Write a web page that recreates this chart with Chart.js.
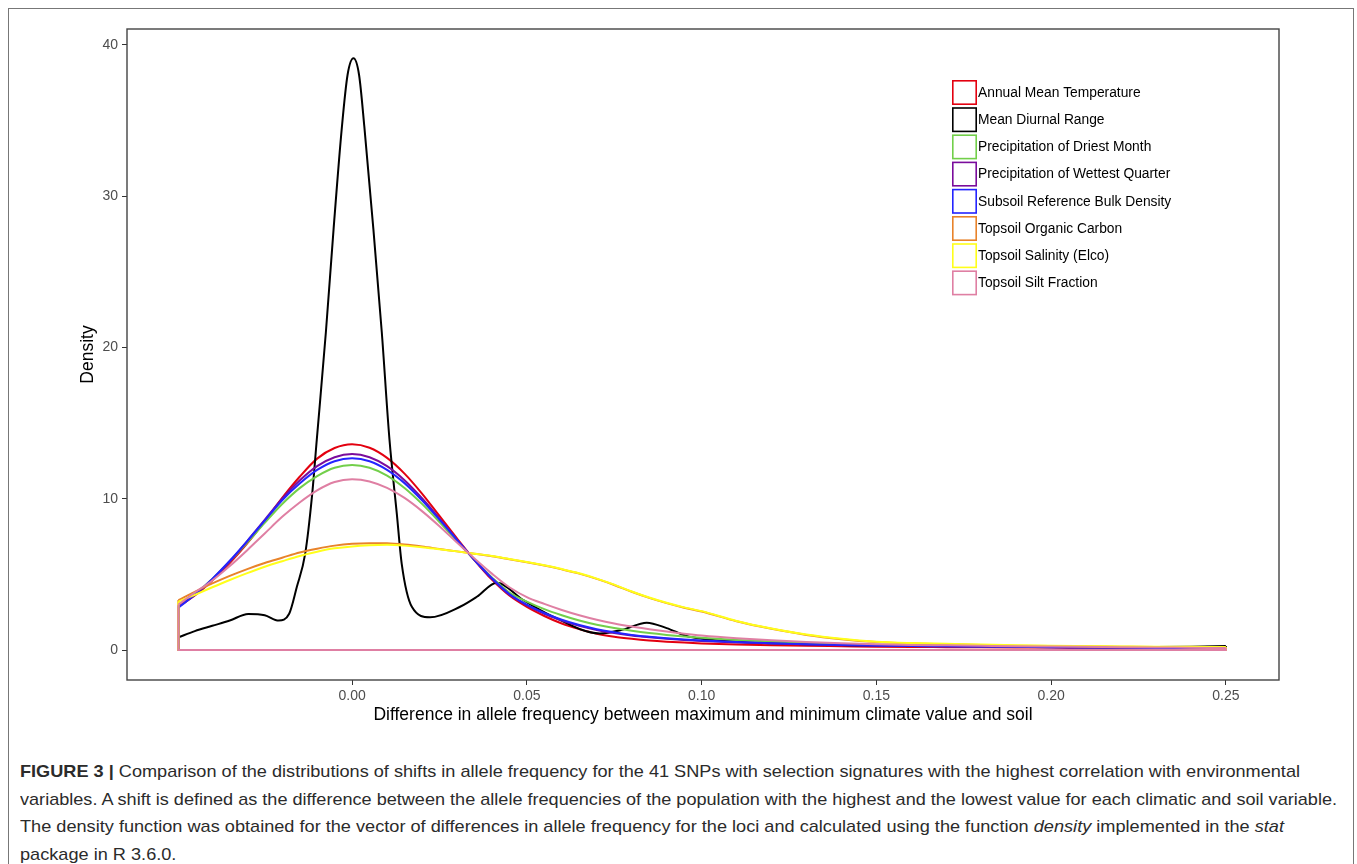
<!DOCTYPE html>
<html>
<head>
<meta charset="utf-8">
<script src="https://cdn.jsdelivr.net/npm/chart.js@4.4.1/dist/chart.umd.min.js"></script>
<style>
  body { margin: 0; background: #fff; width: 1357px; height: 864px; overflow: hidden; position: relative;
         font-family: "Liberation Sans", Arial, sans-serif; }
  #frame { position: absolute; left: 8px; top: 8px; width: 1344px; height: 900px; border: 1px solid #777; }
  #wrap { position: absolute; left: 0; top: 0; width: 1357px; height: 740px; }
  #caption { position: absolute; left: 20px; top: 758px; color: #2b2b2b; font-size: 17px; line-height: 27.7px; }
  #caption div { white-space: nowrap; transform-origin: 0 50%; width: max-content; }
</style>
</head>
<body>
<div id="frame"></div>
<div id="wrap"><canvas id="densityChart" width="1357" height="740"></canvas></div>
<div id="caption">
  <div><b>FIGURE 3 |</b> Comparison of the distributions of shifts in allele frequency for the 41 SNPs with selection signatures with the highest correlation with environmental</div>
  <div>variables. A shift is defined as the difference between the allele frequencies of the population with the highest and the lowest value for each climatic and soil variable.</div>
  <div>The density function was obtained for the vector of differences in allele frequency for the loci and calculated using the function <i>density</i> implemented in the <i>stat</i></div>
  <div>package in R 3.6.0.</div>
</div>
<script>
// x positions shared by the smooth curves
const xGrid = [-0.0497, -0.045, -0.04, -0.035, -0.03, -0.025, -0.02, -0.015, -0.01, -0.005, 0,
  0.005, 0.01, 0.015, 0.02, 0.025, 0.03, 0.035, 0.04, 0.045, 0.05, 0.055, 0.06, 0.065, 0.07, 0.075,
  0.08, 0.085, 0.09, 0.095, 0.1, 0.11, 0.12, 0.13, 0.14, 0.15, 0.16, 0.17, 0.18, 0.19, 0.2, 0.21,
  0.22, 0.23, 0.24, 0.25];

const annualMeanTemp = [2.86, 3.6, 4.6, 5.75, 7.05, 8.5, 10.05, 11.45, 12.65, 13.35, 13.6,
  13.37, 12.7, 11.66, 10.34, 8.86, 7.38, 5.95, 4.65, 3.6, 2.85, 2.25, 1.75, 1.38, 1.08, 0.88,
  0.74, 0.63, 0.55, 0.49, 0.44, 0.37, 0.32, 0.28, 0.25, 0.22, 0.2, 0.19, 0.18, 0.17, 0.16, 0.15,
  0.14, 0.13, 0.12, 0.11];

// mean diurnal range has its own x positions (sharp peak)
const diurnalX = [-0.0497, -0.045, -0.04, -0.035, -0.0297, -0.025, -0.021, -0.018, -0.0158, -0.0134,
  -0.0115, -0.0101, -0.0075, -0.0053, -0.0029, -0.0013, 0.0004, 0.002, 0.0035, 0.0061, 0.0085,
  0.0107, 0.0128, 0.0142, 0.0171, 0.0223, 0.0309, 0.0357, 0.0414, 0.049, 0.0566, 0.0709, 0.0775,
  0.0843, 0.09, 0.0957, 0.1, 0.11, 0.12, 0.13, 0.14, 0.15, 0.16, 0.17, 0.18, 0.19, 0.2, 0.21,
  0.22, 0.23, 0.24, 0.25];
const meanDiurnalRange = [0.84, 1.25, 1.6, 1.95, 2.38, 2.3, 1.95, 2.4, 4.18, 6.39,
  10.1, 13.9, 21, 27.8, 34.6, 38.0, 39.1, 38.0, 34.6, 27.8, 21,
  13.9, 9.0, 5.7, 2.86, 2.16, 2.86, 3.52, 4.45, 3.3, 2.31, 1.1, 1.35,
  1.81, 1.45, 0.93, 0.75, 0.55, 0.45, 0.38, 0.33, 0.3, 0.3, 0.34, 0.3, 0.25, 0.22, 0.2,
  0.19, 0.2, 0.22, 0.26];

const precipDriest = [2.9, 3.7, 4.7, 5.85, 7.1, 8.4, 9.65, 10.7, 11.5, 12.05, 12.23,
  12.05, 11.53, 10.71, 9.66, 8.46, 7.19, 5.95, 4.8, 3.8, 3.2, 2.7, 2.3, 1.95, 1.67, 1.45,
  1.27, 1.12, 1.0, 0.9, 0.81, 0.67, 0.56, 0.47, 0.4, 0.35, 0.31, 0.28, 0.25, 0.23, 0.21, 0.19,
  0.17, 0.15, 0.14, 0.12];

const precipWettest = [2.9, 3.65, 4.65, 5.85, 7.2, 8.6, 10.0, 11.2, 12.15, 12.74, 12.95,
  12.74, 12.15, 11.22, 10.03, 8.69, 7.3, 5.95, 4.7, 3.65, 2.95, 2.4, 1.95, 1.6, 1.33, 1.12,
  0.96, 0.84, 0.74, 0.66, 0.6, 0.5, 0.43, 0.37, 0.32, 0.28, 0.26, 0.24, 0.22, 0.2, 0.18, 0.17,
  0.15, 0.14, 0.13, 0.11];

const subsoilBulkDensity = [2.8, 3.65, 4.7, 5.9, 7.2, 8.55, 9.9, 11.0, 11.9, 12.48, 12.67,
  12.48, 11.91, 11.03, 9.9, 8.62, 7.28, 5.96, 4.75, 3.7, 3.0, 2.45, 2.0, 1.65, 1.38, 1.17,
  1.0, 0.88, 0.78, 0.7, 0.63, 0.53, 0.45, 0.39, 0.34, 0.3, 0.27, 0.25, 0.23, 0.21, 0.19, 0.17,
  0.16, 0.14, 0.13, 0.12];

const topsoilCarbon = [3.3, 3.85, 4.4, 4.9, 5.35, 5.75, 6.1, 6.45, 6.7, 6.9, 7.02,
  7.06, 7.05, 6.97, 6.84, 6.68, 6.52, 6.36, 6.2, 6.0, 5.8, 5.58, 5.33, 5.05, 4.7, 4.3,
  3.85, 3.45, 3.1, 2.8, 2.55, 1.9, 1.4, 1.0, 0.72, 0.53, 0.44, 0.39, 0.34, 0.29, 0.26, 0.24,
  0.22, 0.2, 0.19, 0.18];

const topsoilSalinity = [3.2, 3.65, 4.15, 4.63, 5.08, 5.5, 5.87, 6.22, 6.5, 6.72, 6.85,
  6.92, 6.95, 6.9, 6.8, 6.66, 6.52, 6.37, 6.22, 6.02, 5.82, 5.6, 5.35, 5.07, 4.72, 4.32,
  3.87, 3.47, 3.12, 2.82, 2.57, 1.92, 1.42, 1.02, 0.74, 0.55, 0.46, 0.41, 0.36, 0.31, 0.28, 0.26,
  0.24, 0.22, 0.21, 0.2];

const topsoilSilt = [3.0, 3.8, 4.6, 5.55, 6.6, 7.7, 8.8, 9.75, 10.55, 11.1, 11.28,
  11.14, 10.71, 10.05, 9.18, 8.18, 7.1, 6.05, 5.05, 4.15, 3.5, 3.05, 2.65, 2.3, 2.0, 1.75,
  1.55, 1.38, 1.22, 1.08, 0.96, 0.78, 0.64, 0.53, 0.45, 0.39, 0.34, 0.31, 0.28, 0.25, 0.23, 0.21,
  0.19, 0.17, 0.15, 0.13];

const seriesNames = ["Annual Mean Temperature", "Mean Diurnal Range", "Precipitation of Driest Month",
  "Precipitation of Wettest Quarter", "Subsoil Reference Bulk Density", "Topsoil Organic Carbon",
  "Topsoil Salinity (Elco)", "Topsoil Silt Fraction"];
const seriesColors = ["#e3000f", "#000000", "#72cf4a", "#7a0c9c", "#2424ff", "#e8832a", "#ffff1a", "#df7fa3"];

const xTicks = [0, 0.05, 0.1, 0.15, 0.2, 0.25];
const yTicks = [0, 10, 20, 30, 40];

const curves = [
  [xGrid, annualMeanTemp], [diurnalX, meanDiurnalRange], [xGrid, precipDriest], [xGrid, precipWettest],
  [xGrid, subsoilBulkDensity], [xGrid, topsoilCarbon], [xGrid, topsoilSalinity], [xGrid, topsoilSilt]
];

const datasets = [];
curves.forEach(([xs, ys], i) => {
  // later series are drawn on top, like ggplot
  datasets.push({
    label: seriesNames[i],
    data: xs.map((v, j) => ({ x: v, y: ys[j] })),
    borderColor: seriesColors[i],
    borderWidth: 2,
    showLine: true,
    pointRadius: 0,
    cubicInterpolationMode: "monotone",
    order: 100 - 2 * i
  });
  // geom_density outline: down to zero at both ends
  const n = xs.length - 1;
  datasets.push({
    label: "",
    data: [{ x: xs[0], y: ys[0] }, { x: xs[0], y: 0 }, { x: xs[n], y: 0 }, { x: xs[n], y: ys[n] }],
    borderColor: seriesColors[i],
    borderWidth: 2,
    showLine: true,
    pointRadius: 0,
    tension: 0,
    order: 99 - 2 * i
  });
});

const panelBox = {
  id: "panelBox",
  afterDatasetsDraw(chart) {
    const { ctx, chartArea: a } = chart;
    ctx.save();
    ctx.strokeStyle = "#444";
    ctx.lineWidth = 1.4;
    ctx.strokeRect(a.left, a.top, a.right - a.left, a.bottom - a.top);
    ctx.restore();
  }
};

const boxLegend = {
  id: "boxLegend",
  afterDraw(chart) {
    const { ctx, chartArea: a } = chart;
    const left = a.right - 327, top0 = a.top + 51;
    ctx.save();
    ctx.font = '13.8px "Liberation Sans", Arial, sans-serif';
    ctx.textBaseline = "middle";
    seriesNames.forEach((name, i) => {
      const top = top0 + i * 27.2;
      ctx.fillStyle = "#fff";
      ctx.fillRect(left, top, 25, 25);
      ctx.strokeStyle = seriesColors[i];
      ctx.lineWidth = 1.6;
      ctx.strokeRect(left + 0.8, top + 0.8, 23.4, 23.4);
      ctx.fillStyle = "#000";
      ctx.fillText(name, left + 26, top + 13);
    });
    ctx.restore();
  }
};

new Chart(document.getElementById("densityChart"), {
  type: "scatter",
  data: { datasets: datasets },
  options: {
    responsive: false,
    devicePixelRatio: 1,
    animation: false,
    layout: { padding: { left: 0, top: 29, right: 78, bottom: 0 } },
    plugins: { legend: { display: false }, tooltip: { enabled: false } },
    scales: {
      x: {
        type: "linear",
        min: -0.0644,
        max: 0.2652,
        afterBuildTicks: s => { s.ticks = xTicks.map(v => ({ value: v })); },
        afterFit: s => { s.height = 60; },
        ticks: { callback: v => v.toFixed(2), color: "#4d4d4d", font: { size: 14 }, padding: 3, maxRotation: 0, autoSkip: false },
        grid: { drawOnChartArea: false, drawTicks: true, tickLength: 5, tickColor: "#333", color: "#333" },
        border: { display: false },
        title: { display: true, text: "Difference in allele frequency between maximum and minimum climate value and soil",
                 color: "#000", font: { size: 17.5 }, padding: { top: 0, bottom: 14 } }
      },
      y: {
        min: -1.98,
        max: 41.04,
        afterBuildTicks: s => { s.ticks = yTicks.map(v => ({ value: v })); },
        afterFit: s => { s.width = 127; },
        ticks: { color: "#4d4d4d", font: { size: 14 }, padding: 4 },
        grid: { drawOnChartArea: false, drawTicks: true, tickLength: 5, tickColor: "#333", color: "#333" },
        border: { display: false },
        title: { display: true, text: "Density", color: "#000", font: { size: 17.5 }, padding: { top: 78, bottom: 0 } }
      }
    }
  },
  plugins: [panelBox, boxLegend]
});

// stretch caption lines to the widths of the printed figure
const captionWidths = [1280, 1317, 1264];
function fitCaption() {
  const lines = document.querySelectorAll("#caption div");
  let last = 1;
  lines.forEach((el, i) => {
    const w = el.getBoundingClientRect().width;
    const s = i < captionWidths.length ? captionWidths[i] / w : last;
    last = s;
    el.style.transform = "scaleX(" + s + ")";
  });
}
fitCaption();
</script>
</body>
</html>
